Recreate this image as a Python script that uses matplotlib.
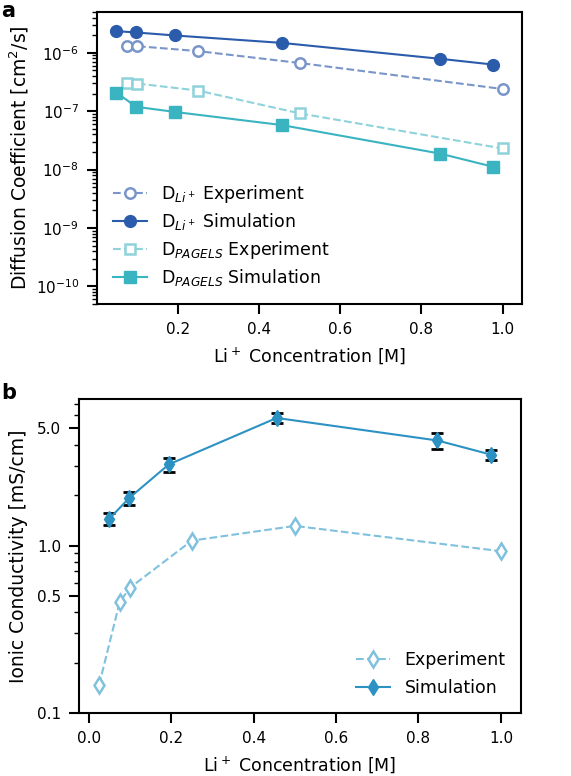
import numpy as np
from matplotlib import pyplot as plt
from matplotlib.ticker import FixedLocator, NullFormatter, FixedFormatter, LogLocator

# panel a: diffusion coefficients
x_exp_a = [0.075, 0.1, 0.25, 0.5, 1.0]
x_sim = [0.049, 0.098, 0.194, 0.456, 0.846, 0.976]
d_li_exp = [1.3e-6, 1.3e-6, 1.07e-6, 6.7e-7, 2.4e-7]
d_li_sim = [2.35e-6, 2.23e-6, 1.98e-6, 1.48e-6, 7.9e-7, 6.3e-7]
d_pag_exp = [3.1e-7, 2.98e-7, 2.26e-7, 9.2e-8, 2.3e-8]
d_pag_sim = [2.09e-7, 1.19e-7, 9.7e-8, 5.8e-8, 1.88e-8, 1.12e-8]

# panel b: ionic conductivity
x_exp_b = [0.025, 0.075, 0.1, 0.25, 0.5, 1.0]
cond_exp = [0.147, 0.46, 0.56, 1.07, 1.31, 0.925]
cond_sim = [1.44, 1.92, 3.05, 5.78, 4.24, 3.49]
cond_err = [0.115, 0.17, 0.29, 0.38, 0.45, 0.23]

plt.rcParams['font.size'] = 12
plt.rcParams['axes.linewidth'] = 1.5
plt.rcParams['lines.linewidth'] = 1.5

fig = plt.figure(figsize=(5.71, 7.76), dpi=100)
W, H = 571., 776.
ax1 = fig.add_axes([97/W, 1-304/H, (522-97)/W, (304-12)/H])
ax2 = fig.add_axes([79/W, 1-713/H, (521-79)/W, (713-399)/H])

c_li_exp = '#7a95c9'
c_li_sim = '#2b5cab'
c_pag_exp = '#8ed3da'
c_pag_sim = '#3bb4c1'

ax1.plot(x_exp_a, d_li_exp, '--o', color=c_li_exp, mfc='white', mec=c_li_exp,
         mew=1.8, ms=7.5, label=r'D$_{Li^+}$ Experiment')
ax1.plot(x_sim, d_li_sim, '-o', color=c_li_sim, ms=8.5, label=r'D$_{Li^+}$ Simulation')
ax1.plot(x_exp_a, d_pag_exp, '--s', color=c_pag_exp, mfc='white', mec=c_pag_exp,
         mew=1.8, ms=7.5, label=r'D$_{PAGELS}$ Experiment')
ax1.plot(x_sim, d_pag_sim, '-s', color=c_pag_sim, ms=8, label=r'D$_{PAGELS}$ Simulation')
ax1.set_yscale('log')
ax1.set_ylim(5e-11, 5e-6)
ax1.set_xticks([0.2, 0.4, 0.6, 0.8, 1.0])
ax1.set_xticklabels(['0.2', '0.4', '0.6', '0.8', '1.0'])
ax1.yaxis.set_major_locator(FixedLocator([1e-10, 1e-9, 1e-8, 1e-7, 1e-6]))
ax1.yaxis.set_minor_locator(LogLocator(base=10, subs=np.arange(2, 10), numticks=20))
ax1.yaxis.set_minor_formatter(NullFormatter())
ax1.set_xlabel(r'Li$^+$ Concentration [M]', fontsize=12.5, labelpad=6)
ax1.set_ylabel(r'Diffusion Coefficient [cm$^2$/s]', fontsize=13.5, labelpad=3)
ax1.legend(loc='lower left', frameon=False, fontsize=12.5, labelspacing=0.38,
           bbox_to_anchor=(0.0, 0.0))
ax1.tick_params(labelsize=11, width=1.5, length=7, pad=6)
ax1.tick_params(which='minor', width=1, length=3.5)

c_b_exp = '#80c1de'
c_b_sim = '#2c92c3'
ax2.plot(x_exp_b, cond_exp, '--d', color=c_b_exp, mfc='white', mec=c_b_exp,
         mew=1.8, ms=8.5, label='Experiment')
ax2.errorbar(x_sim, cond_sim, yerr=cond_err, fmt='none',
             ecolor='black', elinewidth=1.5, capsize=4, capthick=2)
ax2.plot(x_sim, cond_sim, '-d', color=c_b_sim, ms=8.5, label='Simulation')
ax2.set_yscale('log')
ax2.set_ylim(0.1, 7.5)
ax2.set_xticks([0.0, 0.2, 0.4, 0.6, 0.8, 1.0])
ax2.yaxis.set_major_locator(FixedLocator([0.1, 0.5, 1.0, 5.0]))
ax2.yaxis.set_major_formatter(FixedFormatter(['0.1', '0.5', '1.0', '5.0']))
ax2.yaxis.set_minor_locator(FixedLocator([0.2, 0.3, 0.4, 0.6, 0.7, 0.8, 0.9, 2, 3, 4, 6, 7]))
ax2.yaxis.set_minor_formatter(NullFormatter())
ax2.set_xlabel(r'Li$^+$ Concentration [M]', fontsize=12.5, labelpad=6)
ax2.set_ylabel('Ionic Conductivity [mS/cm]', fontsize=13.5, labelpad=6)
ax2.legend(loc='lower right', frameon=False, fontsize=12.5, labelspacing=0.6,
           bbox_to_anchor=(1.0, 0.0))
ax2.tick_params(labelsize=11, width=1.5, length=7, pad=6)
ax2.tick_params(which='minor', width=1, length=3.5)

fig.text(1/W, 1-1/H, 'a', fontsize=15, fontweight='bold', va='top')
fig.text(1/W, 1-383/H, 'b', fontsize=15, fontweight='bold', va='top')

plt.savefig('out.png', dpi=100)
